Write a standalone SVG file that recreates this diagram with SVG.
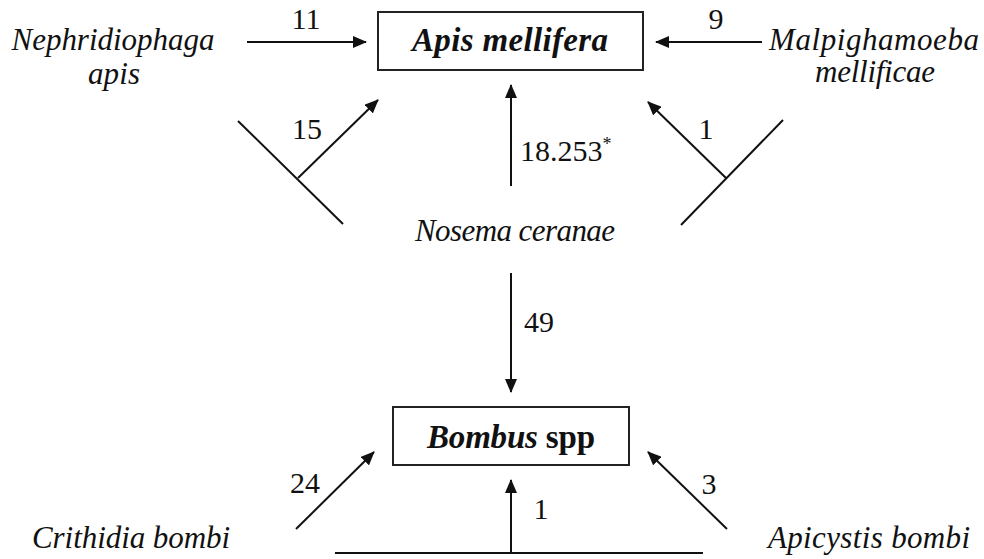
<svg xmlns="http://www.w3.org/2000/svg" width="984" height="559" viewBox="0 0 984 559">
<style>
text{font-family:"Liberation Serif","DejaVu Serif",serif;fill:#111;}
.sp{font-style:italic;font-size:31px;}
.num{font-size:30px;}
.box{fill:#fff;stroke:#222;stroke-width:2;}
.ln{stroke:#111;stroke-width:2;fill:none;}
.ttl{font-weight:bold;font-style:italic;font-size:33px;}
</style>
<defs>
<marker id="ah" viewBox="0 0 14 12" refX="13" refY="6" markerWidth="14" markerHeight="12" markerUnits="userSpaceOnUse" orient="auto">
<path d="M0,0 L14,6 L0,12 Z" fill="#111"/>
</marker>
</defs>
<rect width="984" height="559" fill="#fff"/>
<g id="apis">
<rect class="box" x="378" y="12" width="265" height="58"/>
<text class="ttl" x="510" y="51" text-anchor="middle" textLength="196">Apis mellifera</text>
</g>
<g id="bombus">
<rect class="box" x="393" y="407" width="236" height="58"/>
<text x="511" y="448" text-anchor="middle" textLength="168" style="font-size:33px;font-weight:bold"><tspan font-style="italic">Bombus</tspan> spp</text>
</g>
<g id="nephridiophaga">
<text class="sp" x="113" y="50" text-anchor="middle" textLength="203">Nephridiophaga</text>
<text class="sp" x="114" y="84" text-anchor="middle" textLength="52">apis</text>
</g>
<g id="malpighamoeba">
<text class="sp" x="874" y="50" text-anchor="middle" textLength="210">Malpighamoeba</text>
<text class="sp" x="875" y="82" text-anchor="middle" textLength="120">mellificae</text>
</g>
<g id="nosema">
<text class="sp" x="515" y="241" text-anchor="middle" textLength="200">Nosema ceranae</text>
</g>
<g id="crithidia">
<text class="sp" x="131" y="548" text-anchor="middle" textLength="198">Crithidia bombi</text>
</g>
<g id="apicystis">
<text class="sp" x="869" y="548" text-anchor="middle" textLength="202">Apicystis bombi</text>
</g>
<g id="connectors">
<line class="ln" x1="247" y1="42" x2="366" y2="42" marker-end="url(#ah)"/>
<line class="ln" x1="762" y1="42" x2="656" y2="42" marker-end="url(#ah)"/>
<line class="ln" x1="238" y1="121" x2="343" y2="224"/>
<line class="ln" x1="298" y1="178" x2="378" y2="100" marker-end="url(#ah)"/>
<line class="ln" x1="783" y1="120" x2="681" y2="225"/>
<line class="ln" x1="726" y1="178" x2="648" y2="102" marker-end="url(#ah)"/>
<line class="ln" x1="511" y1="186" x2="511" y2="85" marker-end="url(#ah)"/>
<line class="ln" x1="511" y1="273" x2="511" y2="392" marker-end="url(#ah)"/>
<line class="ln" x1="296" y1="529" x2="374" y2="452" marker-end="url(#ah)"/>
<line class="ln" x1="727" y1="529" x2="648" y2="452" marker-end="url(#ah)"/>
<line class="ln" x1="335" y1="553" x2="703" y2="553"/>
<line class="ln" x1="511" y1="553" x2="511" y2="480" marker-end="url(#ah)"/>
<text class="num" x="306" y="29" text-anchor="middle">11</text>
<text class="num" x="716" y="29" text-anchor="middle">9</text>
<text class="num" x="307" y="139" text-anchor="middle">15</text>
<text class="num" x="706" y="139" text-anchor="middle">1</text>
<text class="num" x="520" y="161">18.253<tspan font-size="18" dy="-11">*</tspan></text>
<text class="num" x="524" y="332">49</text>
<text class="num" x="305" y="493" text-anchor="middle">24</text>
<text class="num" x="709" y="494" text-anchor="middle">3</text>
<text class="num" x="541" y="519" text-anchor="middle">1</text>
</g>
</svg>
